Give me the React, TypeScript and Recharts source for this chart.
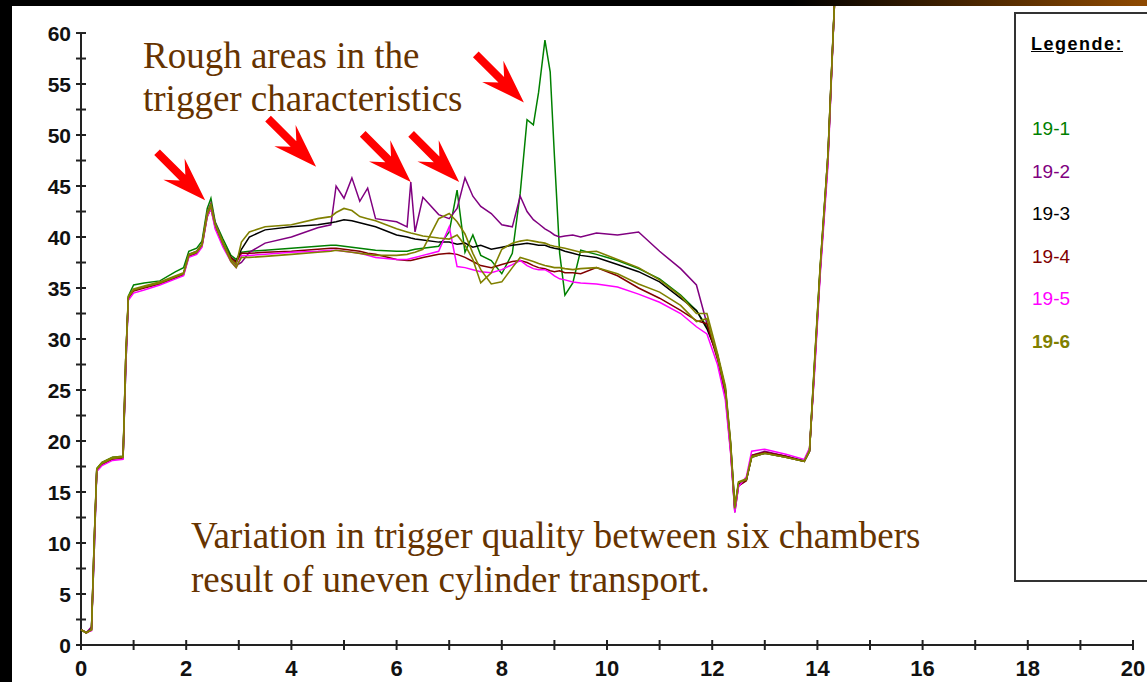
import React from "react";
import { LineChart, Line, XAxis, YAxis, ReferenceLine, ReferenceDot } from "recharts";

// time axis samples (shared by all curves)
const times = [
  0, 0.1, 0.2, 0.25, 0.3, 0.4, 0.6, 0.8, 0.85, 0.9, 1.0, 1.2, 1.5, 1.8, 1.95, 2.05, 2.2, 2.3, 2.4, 2.47,
  2.55, 2.7, 2.85, 2.95, 3.05, 3.2, 3.5, 4.0, 4.5, 4.75, 4.85, 5.0, 5.15, 5.3, 5.45, 5.6, 6.0, 6.2, 6.27, 6.35,
  6.5, 6.8, 7.0, 7.15, 7.3, 7.45, 7.6, 7.8, 8.0, 8.2, 8.35, 8.48, 8.6, 8.7, 8.82, 8.92, 9.0, 9.1, 9.2, 9.35,
  9.5, 9.8, 10.2, 10.6, 11.0, 11.4, 11.7, 11.9, 12.1, 12.25, 12.35, 12.43, 12.5, 12.65, 12.75, 13.0, 13.4, 13.75, 13.85, 13.95,
  14.05, 14.2, 14.35,
];

const s19_1 = [
  1.5, 1.2, 1.6, 9, 17.3, 17.9, 18.4, 18.5, 27, 34.2, 35.3, 35.5, 35.7, 36.6, 37, 38.6, 38.9, 39.6, 42.8, 43.8,
  41.5, 39.8, 38.2, 37.8, 38.5, 38.6, 38.7, 38.9, 39.1, 39.2, 39.2, 39.1, 39.0, 38.9, 38.8, 38.7, 38.6, 38.6, 38.7, 38.8,
  38.9, 39.1, 40.5, 44.6, 38.5, 40.2, 38.2, 37.7, 36.4, 38.4, 44.3, 51.5, 51.0, 54.2, 59.3, 56.2, 48, 38.4, 34.3, 35.5,
  38.7, 38.3, 37.7, 36.9, 35.9, 34.3, 32.8, 31.2, 28.5, 25, 19.5, 13.3, 15.8, 16.3, 18.5, 18.9, 18.5, 18.1, 19.2, 28,
  36.8, 48, 66,
];
const s19_2 = [
  1.5, 1.2, 1.8, 9, 17.2, 17.8, 18.3, 18.4, 27, 34, 34.8, 35.1, 35.5, 36.1, 36.4, 38.3, 38.6, 39.3, 42.4, 43.3,
  41.4, 39.4, 37.8, 37.2, 37.5, 38.5, 39.4, 40.0, 40.9, 41.2, 45.0, 43.8, 45.8, 43.5, 44.8, 41.8, 41.5, 41.0, 45.4, 40.5,
  43.9, 42.2, 41.8, 42.8, 45.8, 44.0, 43.0, 42.3, 41.2, 41.0, 44.0, 42.5, 41.7, 41.3, 40.8, 40.5, 40.2, 40.0, 40.1, 40.2,
  40.0, 40.4, 40.2, 40.5, 38.6, 36.9, 35.3, 31.5, 28.3, 24.8, 19.2, 13.0, 15.6, 16.2, 18.6, 19.0, 18.5, 18.0, 19.0, 27.5,
  36.5, 48, 66,
];
const s19_3 = [
  1.5, 1.2, 1.5, 10, 17.2, 17.8, 18.3, 18.4, 28, 34, 34.8, 35.1, 35.5, 36.1, 36.4, 38.2, 38.5, 39.2, 42.2, 43.0,
  41.2, 39.4, 38.0, 37.6, 38.8, 40.0, 40.7, 41.0, 41.2, 41.4, 41.5, 41.7, 41.6, 41.4, 41.2, 41.0, 40.2, 40.0, 39.9, 39.8,
  39.7, 39.5, 39.5, 39.3, 39.4, 39.0, 39.2, 38.8, 39.0, 39.2, 39.3, 39.4, 39.3, 39.2, 39.2, 39.0, 38.9, 38.8, 38.6, 38.4,
  38.2, 38.0, 37.3, 36.6, 35.6, 34.0, 32.8, 31.0, 28.4, 25.2, 19.8, 13.5, 15.8, 16.2, 18.4, 18.8, 18.4, 18.0, 19.0, 27.8,
  36.6, 47.5, 66,
];
const s19_4 = [
  1.5, 1.2, 1.5, 10, 17.1, 17.7, 18.2, 18.3, 28, 34, 34.7, 35.0, 35.4, 36.0, 36.3, 38.1, 38.4, 39.1, 42.0, 42.8,
  41.0, 39.2, 38.0, 37.5, 38.4, 38.4, 38.5, 38.6, 38.8, 38.9, 38.9, 38.8, 38.7, 38.6, 38.4, 38.3, 37.8, 37.7, 37.7, 37.8,
  38.0, 38.3, 38.4, 38.3, 38.0, 37.6, 37.2, 37.0, 37.3, 37.6, 37.7, 37.5, 37.2, 37.0, 36.9, 36.7, 36.6, 36.7, 36.5, 36.5,
  36.4, 37.0, 36.2, 35.0, 34.0, 32.8, 31.8, 31.5, 28.0, 24.5, 19.0, 13.2, 15.6, 16.1, 18.6, 18.9, 18.5, 18.0, 19.0, 27.5,
  36.4, 47.5, 66,
];
const s19_5 = [
  1.5, 1.2, 1.4, 9, 17.0, 17.6, 18.1, 18.2, 27, 33.8, 34.5, 34.8, 35.3, 35.9, 36.2, 38.0, 38.3, 39.0, 42.0, 42.8,
  40.8, 39.0, 37.6, 37.0, 38.2, 38.2, 38.3, 38.5, 38.6, 38.7, 38.7, 38.6, 38.5, 38.4, 38.2, 38.0, 37.8, 37.8, 37.9, 38.0,
  38.2, 38.6, 41.0, 37.1, 37.0, 36.8, 36.6, 36.5, 36.8, 37.3, 37.7, 37.2, 36.9, 36.8, 36.8, 36.5, 36.2, 35.9, 35.8, 35.6,
  35.5, 35.4, 35.1, 34.4, 33.6, 32.5, 31.2, 30.5, 27.5, 24.0, 18.8, 13.0, 15.5, 16.5, 19.0, 19.2, 18.7, 18.2, 19.3, 27.0,
  36.0, 47, 66,
];
const s19_6 = [
  1.5, 1.2, 1.5, 10, 17.3, 17.9, 18.4, 18.5, 28, 34.2, 34.9, 35.2, 35.6, 36.2, 36.5, 38.3, 38.6, 39.3, 42.4, 43.2,
  41.3, 39.5, 37.8, 37.3, 39.5, 40.5, 41.0, 41.2, 41.8, 42.0, 42.4, 42.8, 42.6, 42.0, 41.8, 41.6, 40.8, 40.5, 40.4, 40.3,
  40.1, 39.9, 39.8, 40.2, 39.2, 37.8, 35.5, 36.5, 38.8, 39.4, 39.6, 39.7, 39.6, 39.5, 39.4, 39.2, 39.1, 39.0, 38.9, 38.7,
  38.5, 38.6, 37.8, 37.0, 35.8, 34.2, 32.5, 32.5, 28.6, 25.4, 19.9, 13.6, 16.0, 16.3, 18.5, 18.8, 18.4, 18.0, 19.1, 28.2,
  36.9, 48, 66,
];
// second olive trace visible in the lower bundle
const s19_6b = [
  1.5, 1.2, 1.5, 10, 17.2, 17.8, 18.3, 18.4, 28, 34.1, 34.8, 35.1, 35.5, 36.1, 36.4, 38.2, 38.5, 39.2, 42.2, 43.0,
  41.2, 39.3, 37.6, 37.0, 38.0, 38.0, 38.1, 38.3, 38.5, 38.6, 38.7, 38.6, 38.5, 38.4, 38.3, 38.2, 38.2, 38.3, 38.4, 38.5,
  38.8, 41.8, 42.3, 41.5, 40.3, 38.4, 36.8, 35.4, 35.6, 37.0, 38.0, 37.8, 37.6, 37.4, 37.2, 37.1, 37.0, 37.0, 36.9, 36.8,
  36.9, 37.0, 36.4, 35.4, 34.6, 33.3, 31.7, 32.0, 28.2, 25.0, 19.6, 13.4, 15.9, 16.2, 18.4, 18.8, 18.4, 18.0, 19.0, 28.0,
  36.8, 48, 66,
];

const xTicks = [0, 1, 2, 3, 4, 5, 6, 7, 8, 9, 10, 11, 12, 13, 14, 15, 16, 17, 18, 19, 20];
const yTicks = [0, 2.5, 5, 7.5, 10, 12.5, 15, 17.5, 20, 22.5, 25, 27.5, 30, 32.5, 35, 37.5, 40, 42.5, 45, 47.5, 50, 52.5, 55, 57.5, 60];

const legendNames = ["19-1", "19-2", "19-3", "19-4", "19-5", "19-6"];
const legendColors = ["#008000", "#800080", "#000000", "#800000", "#ff00ff", "#808000"];

// arrow tips (x, y) in data units
const arrowTips = [
  [2.36, 43.6],
  [4.47, 46.9],
  [6.27, 45.4],
  [7.19, 45.4],
  [8.42, 53.2],
];

const data = times.map((t, i) => ({
  t,
  s1: s19_1[i],
  s2: s19_2[i],
  s3: s19_3[i],
  s4: s19_4[i],
  s5: s19_5[i],
  s6: s19_6[i],
  s6b: s19_6b[i],
}));

const tickFont = "'Liberation Sans', Arial, sans-serif";

const YTick = (props: any) => {
  const { x, y, payload } = props;
  const major = payload.value % 5 === 0;
  return (
    <g>
      <line x1={x - 5} x2={x + 5} y1={y} y2={y} stroke="#222" strokeWidth={2} />
      {major && (
        <text x={x - 10} y={y + 8} textAnchor="end" fontFamily={tickFont} fontWeight="bold" fontSize={21} fill="#111">
          {payload.value}
        </text>
      )}
    </g>
  );
};

const XTick = (props: any) => {
  const { x, y, payload } = props;
  const major = payload.value % 2 === 0;
  return (
    <g>
      <line x1={x} x2={x} y1={y - 5} y2={y + 5} stroke="#222" strokeWidth={2} />
      {major && (
        <text x={x} y={y + 31} textAnchor="middle" fontFamily={tickFont} fontWeight="bold" fontSize={22} fill="#111">
          {payload.value}
        </text>
      )}
    </g>
  );
};

const Arrow = (props: any) => {
  const { cx, cy } = props;
  if (cx == null || cy == null) return null;
  return (
    <polygon
      transform={`translate(${cx},${cy}) rotate(45)`}
      points="0,0 -44,-15 -32,-4 -68,-4 -68,4 -32,4 -44,15"
      fill="#ff0000"
    />
  );
};

const noteStyle = { fontFamily: "'Liberation Serif', 'Times New Roman', serif", fontSize: 37, fill: "#663300" };

export default function App() {
  return (
    <div style={{ position: "relative", width: 1147, height: 682, background: "#000", overflow: "hidden" }}>
      <style>{"body{margin:0}"}</style>
      <div
        style={{
          position: "absolute", left: 0, top: 0, width: 1147, height: 6,
          background: "linear-gradient(to right, #000 0%, #000 69%, #8f4a00 100%)",
        }}
      />
      <div style={{ position: "absolute", left: 12, top: 6, width: 1135, height: 676, background: "#fff" }}>
        <LineChart width={1135} height={676} data={data} margin={{ top: 0, right: 14, bottom: 7, left: 9 }}>
          <XAxis
            dataKey="t"
            type="number"
            domain={[0, 20]}
            ticks={xTicks}
            interval={0}
            height={30}
            tickSize={0}
            tickMargin={0}
            tickLine={false}
            axisLine={{ stroke: "#222", strokeWidth: 2 }}
            tick={<XTick />}
          />
          <YAxis
            type="number"
            domain={[0, 62.65]}
            allowDataOverflow
            ticks={yTicks}
            interval={0}
            width={60}
            tickSize={0}
            tickMargin={0}
            tickLine={false}
            axisLine={false}
            tick={<YTick />}
          />
          <ReferenceLine segment={[{ x: 0, y: 0 }, { x: 0, y: 60 }]} stroke="#222" strokeWidth={2} />
          <Line dataKey="s1" stroke="#008000" strokeWidth={1.5} dot={false} isAnimationActive={false} />
          <Line dataKey="s2" stroke="#800080" strokeWidth={1.5} dot={false} isAnimationActive={false} />
          <Line dataKey="s3" stroke="#000000" strokeWidth={1.5} dot={false} isAnimationActive={false} />
          <Line dataKey="s4" stroke="#800000" strokeWidth={1.5} dot={false} isAnimationActive={false} />
          <Line dataKey="s5" stroke="#ff00ff" strokeWidth={1.5} dot={false} isAnimationActive={false} />
          <Line dataKey="s6b" stroke="#808000" strokeWidth={1.6} dot={false} isAnimationActive={false} />
          <Line dataKey="s6" stroke="#808000" strokeWidth={1.6} dot={false} isAnimationActive={false} />
          {arrowTips.map(([ax, ay], i) => (
            <ReferenceDot key={i} x={ax} y={ay} r={0} ifOverflow="visible" shape={<Arrow />} />
          ))}
        </LineChart>
      </div>
      <svg style={{ position: "absolute", left: 0, top: 0, pointerEvents: "none" }} width={1147} height={682}>
        <text x={143} y={68} style={noteStyle}>Rough areas in the</text>
        <text x={143} y={111} style={noteStyle}>trigger characteristics</text>
        <text x={191} y={548} style={noteStyle}>Variation in trigger quality between six chambers</text>
        <text x={191} y={592} style={noteStyle}>result of uneven cylinder transport.</text>
      </svg>
      <div
        style={{
          position: "absolute", left: 1014, top: 12, width: 200, height: 566,
          border: "2px solid #333", background: "#fff",
          fontFamily: "'Liberation Sans Narrow', 'Liberation Sans', Arial, sans-serif",
        }}
      >
        <div
          style={{
            position: "absolute", left: 15, top: 20, fontFamily: tickFont, fontWeight: "bold",
            fontSize: 18, letterSpacing: 1.5, textDecoration: "underline", color: "#000",
          }}
        >
          Legende:
        </div>
        {legendNames.map((n, i) => (
          <div
            key={n}
            style={{
              position: "absolute", left: 16, top: 103 + i * 42.5, fontSize: 19, lineHeight: "24px",
              color: legendColors[i], fontWeight: i === 5 ? "bold" : "normal",
            }}
          >
            {n}
          </div>
        ))}
      </div>
    </div>
  );
}
